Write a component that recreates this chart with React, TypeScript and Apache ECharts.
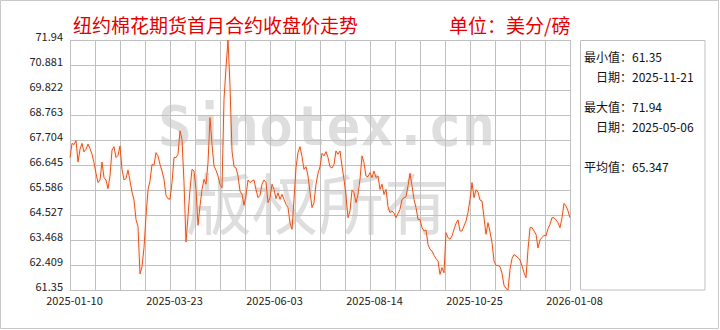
import React, { useEffect, useRef } from "react";
import * as echarts from "echarts";

const TITLE = "纽约棉花期货首月合约收盘价走势";
const UNIT = "单位：美分/磅";

const xTickLabels = ["2025-01-10", "2025-03-23", "2025-06-03", "2025-08-14", "2025-10-25", "2026-01-08"];
const yTickLabels = ["61.35", "62.409", "63.468", "64.527", "65.586", "66.645", "67.704", "68.763", "69.822", "70.881", "71.94"];
const Y_MIN = 61.35;
const Y_STEP = 1.059;

const closePrices = [
  66.96, 67.56, 67.51, 67.68, 66.77, 67.31, 67.56, 67.2, 67.31, 67.53, 67.34, 67.1, 66.74, 66.29, 65.9, 66.01, 66.77, 66.11, 66.01, 65.64,
  66.18, 67.28, 67.42, 66.96, 67.05, 67.45, 66.46, 66.01, 66.07, 66.43, 65.97, 65.5, 65.16, 64.34, 64.03, 62.03, 62.34, 63.14, 64.48, 65.59,
  65.97, 66.67, 66.63, 67.17, 67.03, 66.67, 66.39, 66.04, 65.36, 65.22, 65.19,
  65.9, 66.96, 66.96, 67.1, 68.09, 67.73, 65.9, 63.38, 64.48, 65.61, 66.46, 66.39, 65.61, 64.09, 64.91, 65.61, 66.04, 65.83, 66.74, 68.65,
  67.52, 66.6, 66.42, 66.18, 65.83, 65.68, 69.43, 70.77, 71.94, 69.99, 67.24, 66.57, 66.52, 66.18, 65.54, 65.4, 64.94, 65.36, 66.01, 65.9,
  65.97, 66.01, 65.61, 65.26, 65.36, 65.83, 66.01, 65.9, 65.05, 65.26,
  65.83, 65.61, 65.22, 65.47, 65.19, 65.4, 65.19, 64.98, 64.84, 64.2, 63.92, 65.19, 66.53, 67.17, 67.42, 67.0, 66.46, 66.57, 66.18, 65.5,
  64.84, 65.05, 65.83, 66.29, 66.57, 67.14, 67.03, 67.21, 66.96, 66.57, 66.52, 66.67, 67.24, 67.1, 67.24, 66.6, 66.04, 65.33, 64.41, 64.7,
  65.59, 65.47, 65.05, 65.4, 66.04, 67.03, 66.74, 66.18, 66.15, 66.32,
  66.11, 66.39, 66.11, 66.18, 65.61, 65.83, 65.4, 65.61, 64.88, 64.63, 64.7, 64.6, 64.41, 64.58, 64.77, 65.19, 65.26, 65.3, 65.76, 66.29,
  65.76, 65.19, 64.84, 64.34, 64.34, 63.99, 63.85, 63.89, 63.28, 63.07, 63.0, 62.82, 62.68, 62.58, 62.01, 62.3, 62.08, 63.78, 63.57, 63.5,
  63.64, 63.92, 64.17, 64.32, 63.85, 63.85, 64.06, 64.27, 64.63, 65.19,
  65.9, 65.26, 65.59, 65.5, 65.16, 65.12, 64.41, 63.71, 64.2, 63.81, 63.36, 62.58, 62.39, 62.39, 62.34, 62.06, 61.55, 61.41, 61.35, 62.23,
  62.68, 62.85, 62.79, 62.72, 62.62, 62.37, 62.08, 61.87, 63.07, 63.99, 63.99, 63.85, 63.71, 63.13, 63.47, 63.57, 63.67, 63.64, 63.95, 64.13,
  64.41, 64.41, 64.32, 64.2, 63.99, 64.41, 65.02, 64.91, 64.7, 64.41,
];

const statLines = ["最小值：61.35", "日期：2025-11-21", "最大值：71.94", "日期：2025-05-06", "平均值：65.347"];
const watermarkLatin = "Sinotex.cn";
const watermarkCjk = "版权所有";

const CJK = '"Noto Sans CJK SC", sans-serif';

export default function App() {
  const ref = useRef<HTMLDivElement>(null);
  useEffect(() => {
    if (!ref.current) return;
    const chart = echarts.init(ref.current, undefined, { renderer: "svg" });
    const lastIdx = closePrices.length - 1;
    const labelStep = lastIdx / (xTickLabels.length - 1);
    const statPos = [
      [584, 56],
      [596, 76],
      [584, 106],
      [596, 126],
      [584, 166],
    ];
    chart.setOption({
      animation: false,
      backgroundColor: "#ffffff",
      grid: { left: 70, top: 40, width: 500, height: 250, containLabel: false },
      xAxis: {
        type: "value",
        min: 0,
        max: lastIdx,
        interval: labelStep / 4,
        axisLine: { show: true, lineStyle: { color: "#c0c0c0", width: 1 } },
        axisTick: { show: false },
        splitLine: { show: true, lineStyle: { color: "#c0c0c0", width: 1 } },
        axisLabel: {
          margin: 4,
          color: "#222",
          fontSize: 11,
          fontFamily: CJK,
          padding: [0, 0, 0, 9],
          formatter: (v: number) => {
            const k = v / labelStep;
            return Math.abs(k - Math.round(k)) < 1e-6 ? xTickLabels[Math.round(k)] : "";
          },
        },
      },
      yAxis: {
        type: "value",
        min: 0,
        max: yTickLabels.length - 1,
        interval: 1,
        axisLine: { show: true, lineStyle: { color: "#c0c0c0", width: 1 } },
        axisTick: { show: false },
        splitLine: { show: true, lineStyle: { color: "#c0c0c0", width: 1 } },
        axisLabel: {
          margin: 7,
          color: "#222",
          fontSize: 11,
          lineHeight: 9,
          verticalAlign: "bottom",
          fontFamily: CJK,
          formatter: (v: number) => yTickLabels[Math.round(v)] ?? "",
        },
      },
      series: [
        {
          type: "line",
          data: closePrices.map((p, i) => [i, (p - Y_MIN) / Y_STEP]),
          showSymbol: false,
          symbol: "none",
          z: 5,
          lineStyle: { color: "#e4531c", width: 1, shadowColor: "rgba(255,170,120,0.6)", shadowBlur: 2 },
        },
      ],
      graphic: [
        {
          type: "group",
          z: -1,
          silent: true,
          children: [
            {
              type: "text",
              x: 158,
              y: 153,
              style: {
                text: watermarkLatin,
                fill: "#dedede",
                font: 'bold 56px "DejaVu Sans Mono", monospace',
                textAlign: "left",
                textVerticalAlign: "bottom",
              },
            },
            {
              type: "text",
              x: 186,
              y: 200,
              style: {
                text: watermarkCjk,
                fill: "#dedede",
                font: `66px ${CJK}`,
                textAlign: "left",
                textVerticalAlign: "middle",
              },
            },
          ],
        },
        {
          type: "rect",
          silent: true,
          shape: { x: 0.5, y: 0.5, width: 718, height: 328 },
          style: { fill: "none", stroke: "#c8c8c8", lineWidth: 1 },
        },
        {
          type: "text",
          x: 73,
          y: 24,
          style: { text: TITLE, fill: "#e60000", font: `19px ${CJK}`, textAlign: "left", textVerticalAlign: "middle" },
        },
        {
          type: "text",
          x: 449,
          y: 24,
          style: { text: UNIT, fill: "#e60000", font: `19px ${CJK}`, textAlign: "left", textVerticalAlign: "middle" },
        },
        {
          type: "rect",
          silent: true,
          shape: { x: 580.5, y: 40.5, width: 124.5, height: 249.5 },
          style: { fill: "none", stroke: "#c0c0c0", lineWidth: 1 },
        },
        ...statLines.map((t, k) => ({
          type: "text",
          x: statPos[k][0],
          y: statPos[k][1],
          style: { text: t, fill: "#111", font: `12px ${CJK}`, textAlign: "left", textVerticalAlign: "middle" },
        })),
      ],
    });
    return () => chart.dispose();
  }, []);
  return (
    <div
      ref={ref}
      style={{ position: "absolute", left: 0, top: 0, width: 720, height: 330, background: "#fff" }}
    />
  );
}
